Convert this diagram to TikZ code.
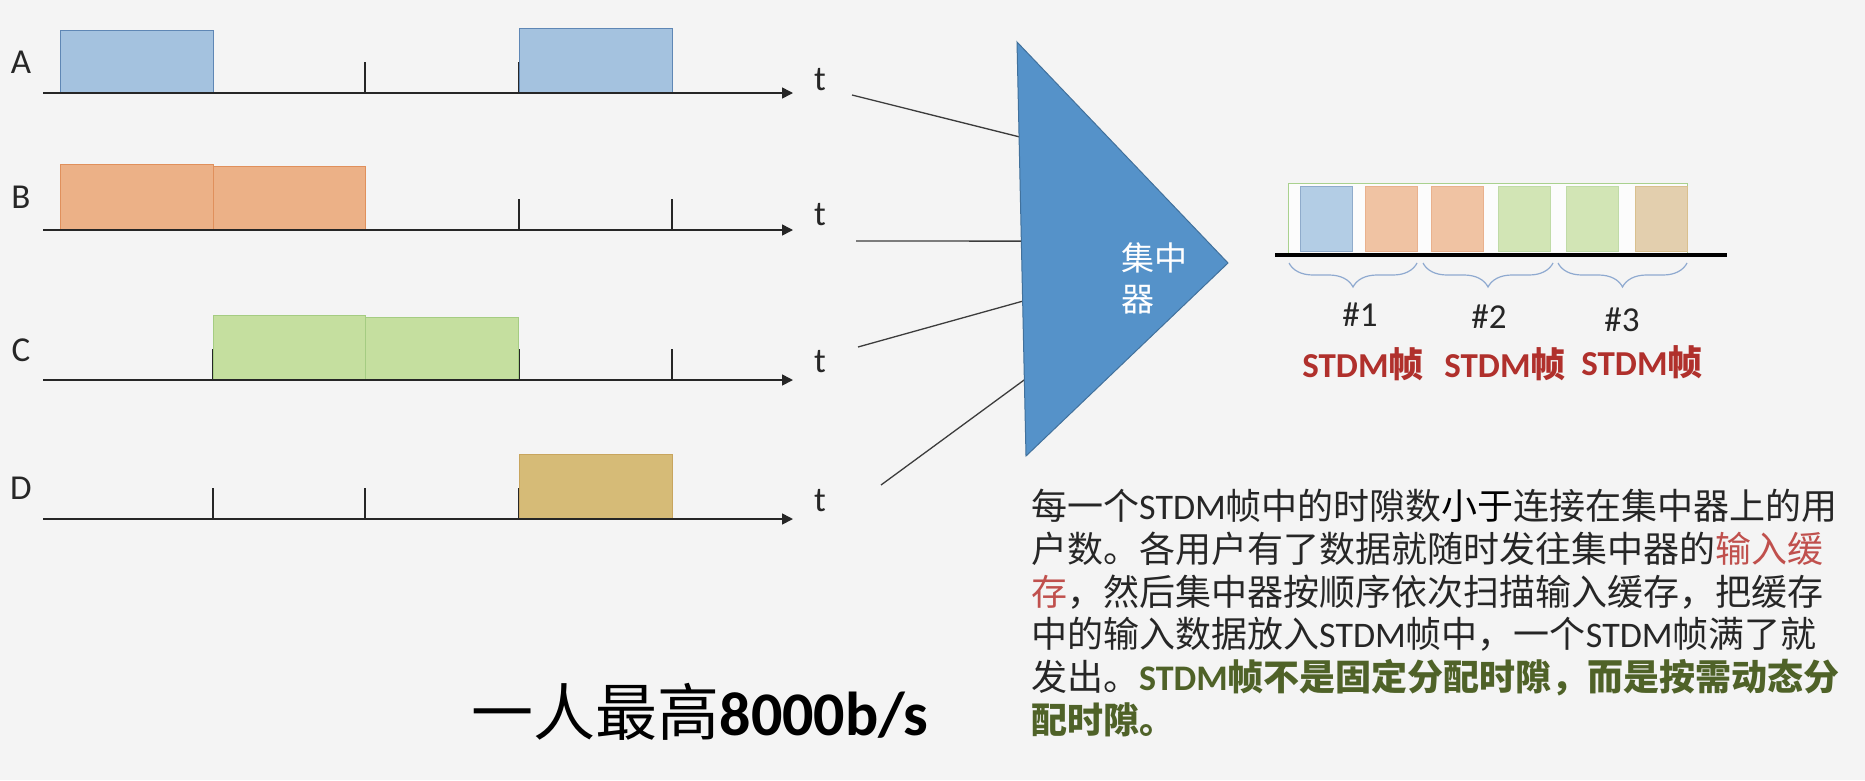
\documentclass[tikz,border=0pt]{standalone}
\usepackage{fontspec}
\setmainfont{Carlito}
\newfontfamily\cjk{Noto Sans CJK SC}
\usetikzlibrary{arrows.meta,decorations.pathreplacing,calc}
\definecolor{bg}{HTML}{F4F4F4}
\definecolor{ink}{HTML}{262626}
\definecolor{fillA}{HTML}{A4C2DF}
\definecolor{lineA}{HTML}{5F87B5}
\definecolor{fillB}{HTML}{ECB187}
\definecolor{lineB}{HTML}{E0905C}
\definecolor{fillC}{HTML}{C5DF9F}
\definecolor{lineC}{HTML}{A5CC82}
\definecolor{fillD}{HTML}{D6BB77}
\definecolor{lineD}{HTML}{C8A55E}
\definecolor{slotA}{HTML}{B3CDE5}
\definecolor{slotB}{HTML}{F0C3A3}
\definecolor{slotC}{HTML}{D2E5B5}
\definecolor{slotD}{HTML}{E3CFAE}
\definecolor{concfill}{HTML}{5592C9}
\definecolor{concline}{HTML}{41719C}
\definecolor{braceblue}{HTML}{8FAAD0}
\definecolor{stdmred}{HTML}{B0302C}
\definecolor{bufred}{HTML}{C0504D}
\definecolor{notegreen}{HTML}{4F6228}
\definecolor{framegreen}{HTML}{A9D18E}
\newcommand\Lat[1]{{\rmfamily #1}}

\begin{document}
\begin{tikzpicture}[x=1pt,y=-1pt,
  timeaxis/.style={line width=1.6pt,draw=ink,-{Triangle[length=11pt,width=11pt]}},
  tickmark/.style={line width=1.1pt,draw=ink},
  chlabel/.style={font=\fontsize{35}{40}\selectfont,text=ink,inner sep=0pt},
  pulse/.style={line width=1pt},
  feed/.style={line width=1.3pt,draw=ink!90},
  slotbox/.style={line width=0.8pt},
  frmbrace/.style={draw=braceblue,line width=1.2pt,decorate,decoration={brace,mirror,amplitude=24pt}},
  numlabel/.style={font=\fontsize{35}{40}\selectfont,text=ink},
  frmlabel/.style={font=\fontsize{35}{40}\selectfont\bfseries,text=stdmred},
  paraline/.style={font=\cjk\fontsize{36}{42}\selectfont,text=ink,anchor=base west,inner sep=0pt},
]
% background
\fill[bg] (0,0) rectangle (1865,780);
\useasboundingbox (0,0) rectangle (1865,780);

% time axes with tick marks
\foreach \n/\y/\ly/\ty in {A/93/62/80, B/230/197/215, C/380/350/362, D/519/488/501} {
  \coordinate (ax\n0) at (43,\y);
  \coordinate (ax\n1) at (793,\y);
  \node[chlabel] (lab\n) at (21,\ly) {\n};
  \node[chlabel] (t\n) at (820,\ty) {t};
  \foreach \x in {213,365,519,672} \draw[tickmark] (\x,\y) -- ++(0,-31);
}

% user data pulses
\draw[pulse,fill=fillA,draw=lineA] (60,30) rectangle (213,93);
\draw[pulse,fill=fillA,draw=lineA] (519,28) rectangle (672,93);
\draw[pulse,fill=fillB,draw=lineB] (60,164) rectangle (213,230);
\draw[pulse,fill=fillB,draw=lineB] (213,166) rectangle (365,230);
\draw[pulse,fill=fillC,draw=lineC] (213,315) rectangle (365,380);
\draw[pulse,fill=fillC,draw=lineC] (365,317) rectangle (518,380);
\draw[pulse,fill=fillD,draw=lineD] (519,454) rectangle (672,519);

\foreach \n in {A,B,C,D} \draw[timeaxis] (ax\n0) -- (ax\n1);

% concentrator
\coordinate (Ttop) at (1017,42);
\coordinate (Tbot) at (1026,456);
\coordinate (Ttip) at (1228,263);
\coordinate (f1) at (852,95);
\coordinate (f2) at (856,241);
\coordinate (f3) at (858,347);
\coordinate (f4) at (881,485);
\draw[feed] (f1) -- ($(Ttop)!0.229!(Tbot)$);
\draw[feed] (f2) -- ($(Ttop)!0.481!(Tbot)$);
\draw[feed] (f3) -- ($(Ttop)!0.626!(Tbot)$);
\draw[feed] (f4) -- ($(Ttop)!0.816!(Tbot)$);
\draw[fill=concfill,draw=concline,line width=1pt] (Ttop) -- (Ttip) -- (Tbot) -- cycle;
\node[anchor=west,align=left,text=white,inner sep=0pt,
      font=\cjk\fontsize{33}{41}\selectfont] (conc) at (1121,278) {集中\\器};

% STDM frames on the output line
\draw[draw=framegreen,fill=white!70!bg,line width=1pt] (1288,183) rectangle (1687,253);
\foreach \xl/\c/\d in {1300/slotA/lineA,1365/slotB/lineB,1431/slotB/lineB,1498/slotC/lineC,1566/slotC/lineC,1635/slotD/lineD}
  \draw[slotbox,fill=\c,draw=\d!70] (\xl,186) rectangle ++(52,65);
\coordinate (out0) at (1275,255);
\coordinate (out1) at (1727,255);
\draw[line width=4pt,draw=black] (out0) -- (out1);

\draw[frmbrace] (1289,263) -- (1417,263);
\draw[frmbrace] (1423,263) -- (1553,263);
\draw[frmbrace] (1558,263) -- (1687,263);
\node[numlabel] (n1) at (1360,315) {\#1};
\node[numlabel] (n2) at (1489,317) {\#2};
\node[numlabel] (n3) at (1622,320) {\#3};
\node[frmlabel] (s1) at (1363,364) {STDM{\cjk 帧}};
\node[frmlabel] (s2) at (1505,364) {STDM{\cjk 帧}};
\node[frmlabel] (s3) at (1642,362) {STDM{\cjk 帧}};

% explanation
\node[paraline] (p1) at (1031,519) {每一个\Lat{STDM}帧中的时隙数{\color{black}小于}连接在集中器上的用};
\node[paraline] (p2) at (1031,562) {户数。各用户有了数据就随时发往集中器的\textcolor{bufred}{输入缓}};
\node[paraline] (p3) at (1031,605) {\textcolor{bufred}{存}，然后集中器按顺序依次扫描输入缓存，把缓存};
\node[paraline] (p4) at (1031,647) {中的输入数据放入\Lat{STDM}帧中，一个\Lat{STDM}帧满了就};
\node[paraline] (p5) at (1031,690) {发出。{\bfseries\color{notegreen}\Lat{STDM}帧不是固定分配时隙，而是按需动态分}};
\node[paraline] (p6) at (1031,733) {{\bfseries\color{notegreen}配时隙。}};

% rate note
\node[font=\fontsize{62}{70}\selectfont,text=black] (rate) at (700,712) {{\cjk 一人最高}\textbf{8000b/s}};
\end{tikzpicture}
\end{document}
